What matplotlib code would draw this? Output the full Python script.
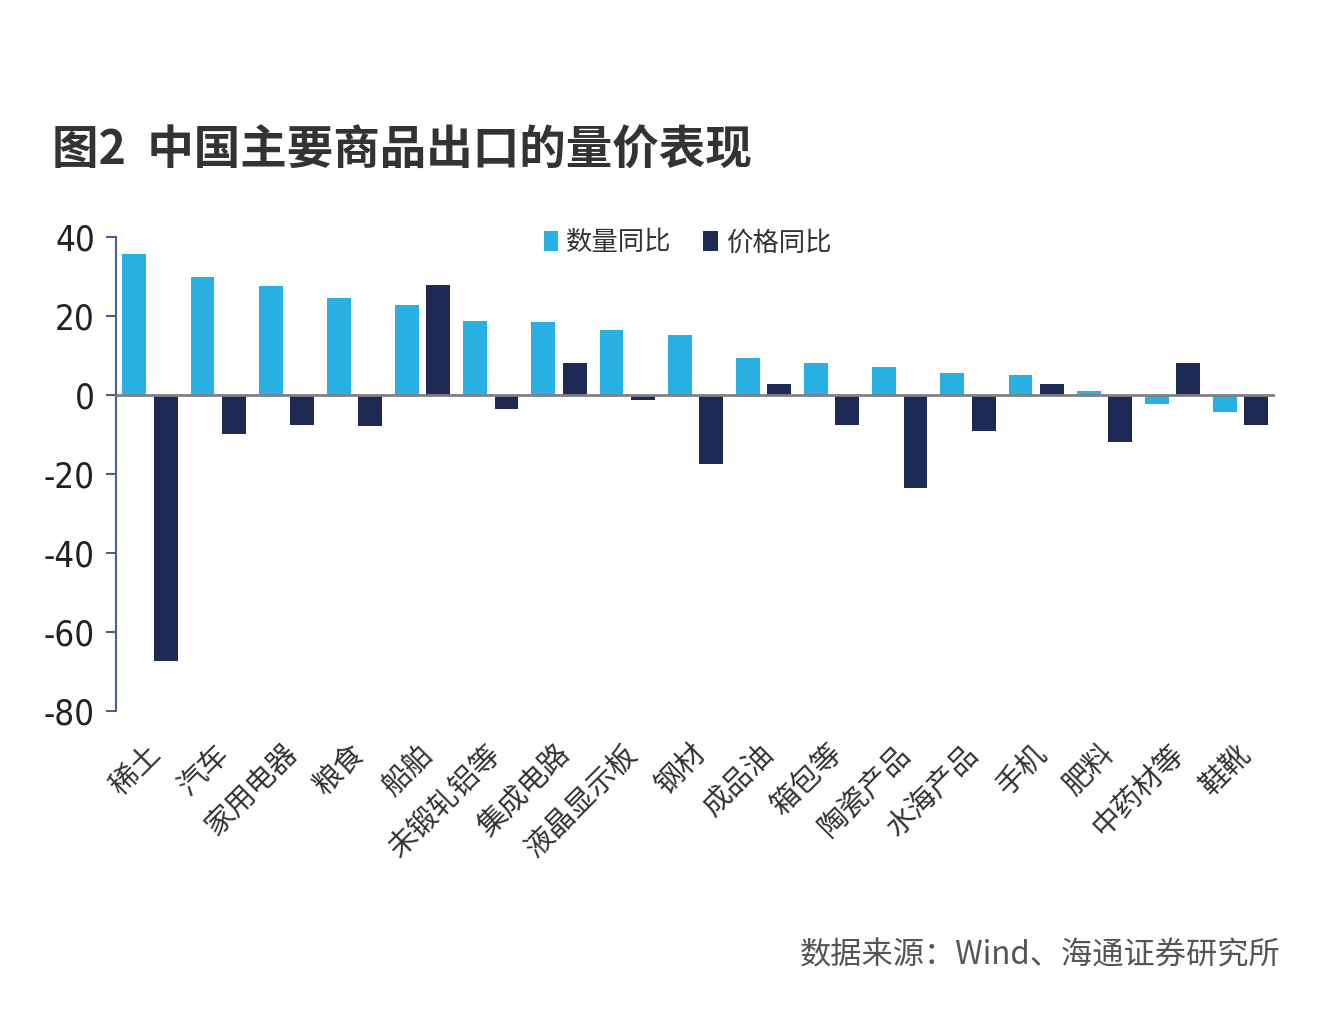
import numpy as np
import matplotlib
matplotlib.use('Agg')
import matplotlib.pyplot as plt
from matplotlib.font_manager import fontManager, FontProperties

plt.rcParams['font.family'] = ['Noto Sans CJK SC', 'DejaVu Sans']

# Data
categories = ['稀土', '汽车', '家用电器', '粮食', '船舶', '未锻轧铝等', '集成电路',
              '液晶显示板', '钢材', '成品油', '箱包等', '陶瓷产品', '水海产品',
              '手机', '肥料', '中药材等', '鞋靴']
volume_yoy = [35.7, 29.9, 27.6, 24.6, 22.8, 18.7, 18.5, 16.5, 15.2, 9.4, 8.1,
              7.1, 5.6, 5.1, 1.0, -2.3, -4.3]
price_yoy = [-67.3, -10.0, -7.6, -7.8, 27.8, -3.5, 8.1, -1.2, -17.5, 2.8, -7.6,
             -23.5, -9.1, 2.8, -11.9, 8.1, -7.6]
series_names = ['数量同比', '价格同比']
yticks = [40, 20, 0, -20, -40, -60, -80]

light = '#29B0E3'
dark = '#1C2A54'


def narrow_font():
    """Pick a condensed sans font for the numbers if one is installed"""
    prefs = ['LiberationSansNarrow-Regular', 'DejaVuSansCondensed.ttf',
             'RobotoCondensed-Regular', 'Roboto_Condensed', 'OpenSans_Condensed-Regular',
             'Narrow', 'Condensed']
    files = [f.fname for f in fontManager.ttflist]
    for p in prefs:
        for fn in files:
            base = fn.split('/')[-1]
            if p in base and 'Bold' not in base and 'Italic' not in base \
                    and 'Oblique' not in base and 'Light' not in base:
                return FontProperties(fname=fn, size=25)
    return FontProperties(family='Liberation Sans', size=22)


num_prop = narrow_font()

fig = plt.figure(figsize=(13.32, 10.16), dpi=100)
ax = fig.add_axes([0.087, 0.300, 0.870, 0.467])

x = np.arange(len(categories))
w = 0.35
off = 0.23
ax.bar(x - off, volume_yoy, w, color=light, label=series_names[0], zorder=2)
ax.bar(x + off, price_yoy, w, color=dark, label=series_names[1], zorder=2)

ax.set_xlim(-0.5, len(categories) - 0.5)
ax.set_ylim(-80, 40)
ax.axhline(0, color='#808080', lw=2, zorder=3)

for s in ['top', 'right', 'bottom']:
    ax.spines[s].set_visible(False)
ax.spines['left'].set_color('#4F5E8C')
ax.spines['left'].set_linewidth(1.5)

ax.set_yticks(yticks)
ax.set_yticklabels([str(v) for v in yticks], color='#222222')
for lab in ax.get_yticklabels():
    lab.set_fontproperties(num_prop)
ax.tick_params(axis='y', direction='out', length=7, width=1.5, color='#4F5E8C', pad=8)

ax.set_xticks(x - 0.06)
ax.set_xticklabels(categories, rotation=45, ha='right', va='top',
                   rotation_mode='anchor', fontsize=21, color='#333333')
ax.tick_params(axis='x', length=0, pad=20)

ax.legend(loc='center', bbox_to_anchor=(0.516, 0.761), bbox_transform=fig.transFigure,
          ncol=2, frameon=False, fontsize=19, handlelength=0.55, handleheight=0.8,
          handletextpad=0.3, columnspacing=1.2, labelcolor='#333333')

fig.text(0.039, 0.852, '图2  中国主要商品出口的量价表现', fontsize=33.5,
         fontweight='bold', color='#333333', ha='left', va='center')
fig.text(0.961, 0.060, '数据来源：Wind、海通证券研究所', fontsize=22.5,
         color='#555555', ha='right', va='center')

fig.savefig('out.png', dpi=100, facecolor='white')
